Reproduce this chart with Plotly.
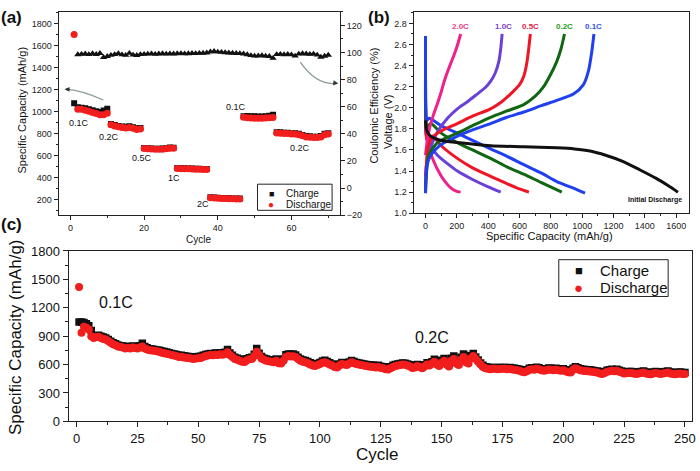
import plotly.graph_objects as go

W, H = 700, 471
def px(x): return x / W
def py(y): return 1 - y / H

FONT = "Liberation Sans, Arial, sans-serif"

# ---------------- Panel (a): rate capability ----------------
a_cycles = list(range(1, 71))
a_charge = [1075, 1040, 1035, 1030, 1022, 1012, 1002, 995, 1010, 1025,
            888, 878, 870, 865, 862, 866, 858, 848, 852,
            670, 668, 665, 663, 662, 664, 668, 673, 672,
            488, 486, 485, 484, 483, 481, 480, 479, 478,
            222, 220, 218, 216, 214, 213, 212, 211, 210,
            958, 960, 957, 957, 956, 956, 958, 962, 972,
            812, 812, 808, 807, 802, 803, 798, 788, 778, 776, 772, 772, 778, 798, 804]
a_discharge = [1700, 1022, 1020, 1012, 1002, 992, 982, 972, 970, 985,
               880, 870, 862, 856, 852, 856, 848, 838, 842,
               664, 663, 660, 658, 657, 659, 662, 667, 666,
               484, 482, 481, 480, 479, 477, 476, 475, 474,
               218, 216, 214, 212, 210, 209, 208, 207, 206,
               948, 945, 942, 940, 940, 940, 941, 943, 946,
               805, 804, 800, 800, 796, 797, 790, 780, 770, 768, 765, 764, 770, 790, 796]
a_ce_cycles = list(range(2, 71))
a_ce = [98.5, 98.8, 99.0, 98.6, 99.2, 98.7, 99.4, 96.5, 97.2,
        98.0, 98.6, 99.3, 98.4, 98.0, 99.5, 98.2, 97.9, 98.6, 98.8,
        98.9, 99.1, 98.8, 99.0, 99.2, 98.9, 99.1, 99.0, 99.2, 99.3,
        99.1, 99.2, 99.4, 99.3, 99.5, 99.6, 99.8, 100.5, 100.9, 100.4,
        100.2, 100.0, 99.8, 99.6, 99.4, 99.3, 99.0, 98.5, 97.8, 97.5,
        97.6, 97.8, 97.4, 97.2, 95.8, 98.6, 98.8, 98.5, 98.7, 98.4,
        97.5, 98.9, 99.2, 99.0, 98.8, 98.9, 98.2, 96.6, 97.4, 98.1]
a_rate_labels = ["0.1C", "0.2C", "0.5C", "1C", "2C", "0.1C", "0.2C"]
a_rate_x = [2.4, 10.5, 19.5, 28, 36, 45, 62.4]
a_rate_y = [894, 771, 578, 393, 165, 1044, 666]
legend_names = ["Charge", "Discharge"]

# ---------------- Panel (b): voltage profiles ----------------
b_rates = ["2.0C", "1.0C", "0.5C", "0.2C", "0.1C"]
b_colors = ["#f0208a", "#6a40d8", "#f01525", "#116611", "#1f3ff0"]
b_label_colors = ["#e8408a", "#8040c0", "#e0204a", "#22a022", "#3355dd"]
b_label_x = [222, 495, 667, 889, 1073]

b_ch_cap = {
    "2.0C": [0, 5, 23, 50, 76, 100, 119, 150, 182, 205, 224],
    "1.0C": [0, 5, 23, 76, 140, 203, 270, 330, 380, 415, 445, 468, 480, 489],
    "0.5C": [0, 5, 15, 44, 100, 203, 300, 415, 480, 542, 600, 627, 648, 669],
    "0.2C": [0, 5, 20, 76, 140, 203, 300, 415, 520, 627, 700, 754, 800, 838, 865, 887],
    "0.1C": [0, 3, 10, 23, 60, 120, 203, 300, 415, 520, 627, 740, 838, 944, 1008, 1040, 1060, 1075],
}
b_ch_v = {
    "2.0C": [1.55, 1.62, 1.79, 1.93, 2.04, 2.15, 2.25, 2.38, 2.50, 2.60, 2.70],
    "1.0C": [1.35, 1.45, 1.58, 1.77, 1.90, 1.99, 2.06, 2.13, 2.19, 2.25, 2.33, 2.44, 2.56, 2.70],
    "0.5C": [1.25, 1.45, 1.62, 1.72, 1.78, 1.85, 1.92, 1.99, 2.05, 2.13, 2.22, 2.30, 2.44, 2.70],
    "0.2C": [1.20, 1.35, 1.55, 1.67, 1.72, 1.76, 1.83, 1.91, 1.97, 2.03, 2.11, 2.20, 2.32, 2.44, 2.56, 2.70],
    "0.1C": [1.19, 1.35, 1.45, 1.52, 1.60, 1.67, 1.73, 1.79, 1.85, 1.91, 1.96, 2.02, 2.07, 2.13, 2.22, 2.35, 2.52, 2.70],
}
b_dis_cap = {
    "2.0C": [0, 3, 13, 50, 97, 130, 161, 195, 224],
    "1.0C": [0, 2, 10, 40, 76, 140, 203, 300, 400, 480],
    "0.5C": [0, 2, 10, 44, 100, 203, 300, 415, 520, 600, 660],
    "0.2C": [0, 2, 8, 34, 100, 203, 300, 415, 520, 627, 740, 870],
    "0.1C": [0, 2, 8, 23, 100, 203, 300, 415, 520, 627, 740, 838, 940, 1018],
}
b_dis_v = {
    "2.0C": [2.25, 1.75, 1.67, 1.50, 1.36, 1.29, 1.24, 1.21, 1.20],
    "1.0C": [2.45, 1.80, 1.70, 1.62, 1.55, 1.47, 1.40, 1.32, 1.25, 1.20],
    "0.5C": [2.68, 1.85, 1.70, 1.73, 1.64, 1.52, 1.43, 1.35, 1.28, 1.23, 1.20],
    "0.2C": [2.68, 1.95, 1.82, 1.85, 1.76, 1.67, 1.60, 1.52, 1.44, 1.37, 1.29, 1.20],
    "0.1C": [2.68, 2.00, 1.88, 1.90, 1.83, 1.76, 1.69, 1.61, 1.54, 1.46, 1.38, 1.30, 1.24, 1.19],
}
b_init_cap = [0, 5, 20, 44, 100, 203, 415, 627, 838, 950, 1050, 1150, 1262, 1370, 1473, 1550, 1611]
b_init_v = [1.88, 1.80, 1.75, 1.72, 1.69, 1.67, 1.64, 1.63, 1.62, 1.61, 1.59, 1.55, 1.49, 1.41, 1.33, 1.26, 1.20]

# ---------------- Panel (c): long cycling ----------------
c_cycles = list(range(1, 251))
c_discharge = [
    1420, 935, 1000, 990, 970, 900, 880, 890, 895, 880,
    870, 865, 850, 830, 815, 805, 790, 785, 780, 770,
    775, 770, 780, 775, 770, 780, 790, 770, 760, 750,
    748, 745, 740, 735, 725, 720, 715, 710, 700, 695,
    690, 680, 682, 675, 672, 670, 665, 660, 665, 668,
    670, 680, 690, 695, 700, 698, 705, 702, 708, 705,
    712, 730, 700, 680, 660, 650, 640, 630, 628, 645,
    655, 660, 690, 735, 700, 665, 650, 640, 635, 630,
    625, 640, 615, 610, 640, 680, 690, 685, 688, 680,
    660, 640, 630, 625, 615, 600, 590, 585, 595, 605,
    620, 625, 615, 600, 590, 575, 570, 590, 605, 600,
    595, 610, 625, 615, 605, 600, 595, 590, 585, 580,
    578, 575, 570, 575, 565, 560, 550, 548, 560, 575,
    585, 590, 595, 600, 598, 590, 580, 565, 570, 585,
    575, 560, 580, 600, 590, 610, 630, 600, 585, 620,
    640, 600, 580, 640, 660, 610, 595, 650, 680, 625,
    610, 665, 690, 660, 630, 600, 575, 560, 555, 550,
    555, 555, 550, 552, 555, 555, 550, 552, 548, 545,
    540, 535, 525, 520, 530, 545, 550, 545, 555, 550,
    540, 535, 540, 548, 545, 540, 545, 540, 535, 540,
    530, 520, 515, 545, 560, 550, 540, 535, 532, 530,
    528, 525, 520, 515, 505, 500, 510, 525, 530, 535,
    530, 535, 525, 515, 505, 508, 510, 512, 505, 500,
    505, 510, 515, 505, 500, 498, 505, 510, 505, 500,
    505, 510, 515, 505, 500, 498, 502, 505, 500, 500]
c_charge = [
    1050, 1050, 1045, 1030, 1010, 960, 905, 905, 910, 900,
    890, 880, 865, 845, 830, 820, 808, 800, 795, 790,
    790, 788, 795, 790, 788, 800, 825, 790, 778, 768,
    765, 760, 755, 750, 742, 738, 732, 726, 718, 712,
    706, 698, 698, 692, 688, 686, 682, 678, 682, 685,
    688, 698, 706, 712, 716, 715, 722, 720, 725, 722,
    730, 760, 722, 698, 678, 668, 658, 648, 646, 662,
    672, 678, 710, 770, 720, 684, 668, 658, 652, 648,
    644, 658, 634, 630, 660, 705, 712, 708, 712, 700,
    678, 658, 648, 642, 632, 618, 608, 602, 612, 622,
    638, 645, 632, 618, 607, 592, 588, 606, 622, 618,
    612, 628, 642, 632, 622, 617, 612, 606, 602, 597,
    595, 592, 587, 592, 582, 577, 567, 565, 577, 592,
    602, 607, 612, 617, 615, 607, 597, 582, 587, 602,
    592, 577, 597, 620, 608, 630, 655, 618, 602, 645,
    665, 618, 598, 668, 690, 628, 612, 678, 712, 645,
    628, 695, 718, 680, 648, 617, 592, 576, 571, 566,
    570, 570, 566, 568, 570, 570, 566, 568, 564, 561,
    556, 551, 541, 536, 546, 561, 566, 561, 571, 566,
    556, 551, 556, 564, 561, 556, 561, 556, 551, 556,
    546, 536, 531, 562, 578, 566, 556, 551, 548, 546,
    544, 541, 536, 531, 521, 516, 526, 541, 546, 551,
    546, 551, 541, 531, 521, 524, 526, 528, 521, 516,
    521, 526, 531, 521, 516, 514, 521, 526, 521, 516,
    521, 526, 531, 521, 516, 514, 518, 521, 516, 516]
c_labels = ["0.1C", "0.2C"]
c_label_x = [16, 146]
c_label_y = [1256, 883]

RED = "#f21d1d"
BLK = "#111111"

fig = go.Figure()

# (a) traces
fig.add_trace(go.Scatter(x=a_ce_cycles, y=a_ce, mode="markers", xaxis="x", yaxis="y2",
                         marker=dict(symbol="triangle-up", size=6.5, color=BLK), showlegend=False))
fig.add_trace(go.Scatter(x=a_cycles, y=a_charge, mode="markers", xaxis="x", yaxis="y", name=legend_names[0],
                         marker=dict(symbol="square", size=6, color=BLK), showlegend=False))
fig.add_trace(go.Scatter(x=a_cycles, y=a_discharge, mode="markers", xaxis="x", yaxis="y", name=legend_names[1],
                         marker=dict(symbol="circle", size=7, color=RED), showlegend=False))

# (b) traces
LW = 3
for r, col in zip(b_rates, b_colors):
    fig.add_trace(go.Scatter(x=b_dis_cap[r], y=b_dis_v[r], mode="lines", xaxis="x2", yaxis="y3",
                             line=dict(color=col, width=LW, shape="spline", smoothing=0.7), showlegend=False))
for r, col in zip(b_rates, b_colors):
    fig.add_trace(go.Scatter(x=b_ch_cap[r], y=b_ch_v[r], mode="lines", xaxis="x2", yaxis="y3",
                             line=dict(color=col, width=LW, shape="spline", smoothing=0.7), showlegend=False))
fig.add_trace(go.Scatter(x=b_init_cap, y=b_init_v, mode="lines", xaxis="x2", yaxis="y3",
                         line=dict(color="#111111", width=LW, shape="spline", smoothing=0.7), showlegend=False))

# (c) traces
fig.add_trace(go.Scatter(x=c_cycles, y=c_charge, mode="markers", xaxis="x3", yaxis="y4", name=legend_names[0],
                         marker=dict(symbol="square", size=7.5, color=BLK), showlegend=False))
fig.add_trace(go.Scatter(x=c_cycles, y=c_discharge, mode="markers", xaxis="x3", yaxis="y4", name=legend_names[1],
                         marker=dict(symbol="circle", size=8, color=RED), showlegend=False))

small = dict(family=FONT, size=9, color="#222")
ax = dict(showline=True, linecolor="#222", linewidth=1, ticks="outside", tickcolor="#222",
          showgrid=False, zeroline=False, tickfont=small, ticklen=4, tickwidth=1)

fig.update_layout(
    width=W, height=H, margin=dict(l=0, r=0, t=0, b=0), showlegend=False,
    paper_bgcolor="white", plot_bgcolor="white", font=dict(family=FONT, color="#111"),
    xaxis=dict(ax, domain=[px(59), px(342)], range=[-3.2, 73.2], tick0=0, dtick=20, mirror=True,
               anchor="y", minor=dict(dtick=10, ticklen=2, ticks="outside", tickcolor="#222")),
    yaxis=dict(ax, domain=[py(215), py(5)], range=[60, 1905], tick0=200, dtick=200, anchor="x",
               minor=dict(dtick=100, ticklen=2, ticks="outside", tickcolor="#222")),
    yaxis2=dict(ax, overlaying="y", side="right", range=[-20, 130], tick0=-20, dtick=20, anchor="x",
                minor=dict(dtick=10, ticklen=2, ticks="outside", tickcolor="#222")),
    xaxis2=dict(ax, domain=[px(416), px(693)], range=[-76, 1682], tick0=0, dtick=200, mirror=True,
                anchor="y3", minor=dict(dtick=100, ticklen=2, ticks="outside", tickcolor="#222")),
    yaxis3=dict(ax, domain=[py(213), py(5)], range=[1.0, 2.91], tick0=1.0, dtick=0.2, tickformat=".1f",
                mirror=True, anchor="x2", minor=dict(dtick=0.1, ticklen=2, ticks="outside", tickcolor="#222")),
    xaxis3=dict(ax, domain=[px(69), px(696)], range=[-3.3, 252.9], tick0=0, dtick=25, mirror=True,
                anchor="y4", ticklen=5, tickfont=dict(family=FONT, size=13, color="#111"),
                ticklabeloverflow="allow",
                minor=dict(dtick=12.5, ticklen=3, ticks="outside", tickcolor="#222")),
    yaxis4=dict(ax, domain=[py(428), py(252)], range=[0, 1800], tick0=0, dtick=300, mirror=True,
                anchor="x3", ticklen=5, tickfont=dict(family=FONT, size=13, color="#111"),
                minor=dict(dtick=150, ticklen=3, ticks="outside", tickcolor="#222")),
)

ann = []
titles = []
titles.append(dict(text="Specific Capacity (mAh/g)", x=px(22), y=py(106), textangle=-90, font=dict(size=11)))
titles.append(dict(text="Cycle", x=px(200), y=py(240), font=dict(size=10)))
titles.append(dict(text="Coulomic Efficiency (%)", x=px(376), y=py(102), textangle=-90, font=dict(size=11)))
titles.append(dict(text="Voltage (V)", x=px(390), y=py(119), textangle=-90, font=dict(size=11)))
titles.append(dict(text="Specific Capacity (mAh/g)", x=px(553), y=py(237), font=dict(size=11)))
titles.append(dict(text="Specific Capacity (mAh/g)", x=px(15), y=py(341), textangle=-90, font=dict(size=17)))
titles.append(dict(text="Cycle", x=px(380), y=py(462), font=dict(size=17)))
titles.append(dict(text="<b>(a)</b>", x=px(12), y=py(11), font=dict(size=17)))
titles.append(dict(text="<b>(b)</b>", x=px(381), y=py(11), font=dict(size=17)))
titles.append(dict(text="<b>(c)</b>", x=px(12), y=py(225), font=dict(size=17)))
for a in titles:
    a.update(xref="paper", yref="paper", showarrow=False, xanchor="center", yanchor="middle")
    a["font"] = dict(family=FONT, color="#111", **a["font"])
ann += titles

leg = []
leg.append(dict(text="■", x=px(273), y=py(193), xanchor="center", font=dict(size=9, color=BLK)))
leg.append(dict(text="●", x=px(273), y=py(204), xanchor="center", font=dict(size=10, color=RED)))
leg.append(dict(text=legend_names[0], x=px(286), y=py(193), xanchor="left", font=dict(size=10, color="#111")))
leg.append(dict(text=legend_names[1], x=px(286), y=py(204), xanchor="left", font=dict(size=10, color="#111")))
leg.append(dict(text="■", x=px(582), y=py(272), xanchor="center", font=dict(size=13, color=BLK)))
leg.append(dict(text="●", x=px(582), y=py(290), xanchor="center", font=dict(size=15, color=RED)))
leg.append(dict(text=legend_names[0], x=px(601), y=py(272), xanchor="left", font=dict(size=15, color="#111")))
leg.append(dict(text=legend_names[1], x=px(601), y=py(290), xanchor="left", font=dict(size=15, color="#111")))
for a in leg:
    a.update(xref="paper", yref="paper", showarrow=False, yanchor="middle")
    a["font"] = dict(family=FONT, **a["font"])
ann += leg

for t, xv, yv in zip(a_rate_labels, a_rate_x, a_rate_y):
    ann.append(dict(text=t, x=xv, y=yv, xref="x", yref="y", showarrow=False,
                    font=dict(family=FONT, size=9, color="#111")))
for t, xv, col in zip(b_rates, b_label_x, b_label_colors):
    ann.append(dict(text="<b>%s</b>" % t, x=xv, y=2.77, xref="x2", yref="y3", showarrow=False,
                    font=dict(family=FONT, size=8, color=col)))
ann.append(dict(text="<b>Initial Discharge</b>", x=1465, y=1.13, xref="x2", yref="y3", showarrow=False,
                font=dict(family=FONT, size=7, color="#111")))
for t, xv, yv in zip(c_labels, c_label_x, c_label_y):
    ann.append(dict(text=t, x=xv, y=yv, xref="x3", yref="y4", showarrow=False,
                    font=dict(family=FONT, size=16, color="#111")))
# arrowheads in (a)
ann.append(dict(text="", x=-1.6, y=1202, ax=0.2, ay=1201, xref="x", yref="y", axref="x", ayref="y",
                showarrow=True, arrowhead=2, arrowsize=0.9, arrowwidth=1.1, arrowcolor="#333"))
ann.append(dict(text="", x=72.7, y=1255, ax=71.2, ay=1262, xref="x", yref="y", axref="x", ayref="y",
                showarrow=True, arrowhead=2, arrowsize=0.9, arrowwidth=1.1, arrowcolor="#333"))
fig.update_layout(annotations=ann)

def box_path(x0, y0, x1, y1):
    return "M %.5f,%.5f L %.5f,%.5f L %.5f,%.5f L %.5f,%.5f Z" % (
        px(x0), py(y0), px(x1), py(y0), px(x1), py(y1), px(x0), py(y1))

fig.update_layout(shapes=[
    dict(type="path", xref="x", yref="y", path="M 8.9,1105 Q 2.75,1198 -1.2,1202",
         line=dict(color="#8a9a9a", width=1.3)),
    dict(type="path", xref="x", yref="y", path="M 62.4,1448 Q 67.05,1228 72.4,1257",
         line=dict(color="#8a9a9a", width=1.3)),
    dict(type="path", xref="paper", yref="paper", path=box_path(259, 183, 334, 210),
         line=dict(color="#222", width=1), fillcolor="white", layer="above"),
    dict(type="path", xref="paper", yref="paper", path=box_path(562, 261, 672, 299),
         line=dict(color="#222", width=1), fillcolor="white", layer="above"),
])

fig.write_html("out.html", config={"displayModeBar": False},
               post_script="document.body.style.margin='0px';document.body.style.padding='0px';")
